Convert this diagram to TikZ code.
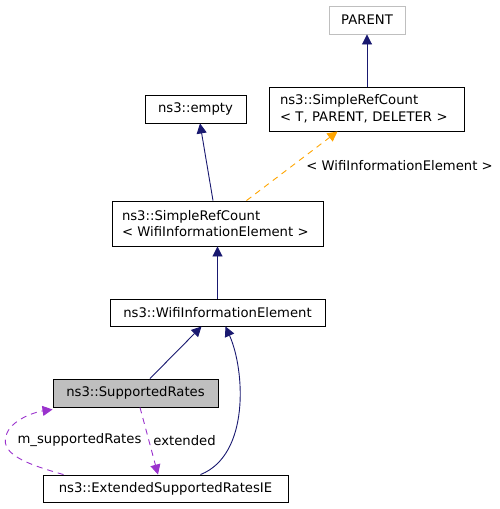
\documentclass[tikz,border=0pt]{standalone}
\usepackage{fontspec}
\setmainfont{DejaVu Sans}
\usetikzlibrary{arrows.meta}
\definecolor{navy}{HTML}{191970}
\definecolor{orng}{HTML}{FFA500}
\definecolor{purp}{HTML}{9A32CD}
\definecolor{grayfill}{HTML}{BFBFBF}
\definecolor{lgray}{HTML}{BFBFBF}
\tikzset{
  cls/.style={draw=black, fill=white, line width=0.9pt, inner sep=0pt, font=\fontsize{13.2}{16.8}\selectfont},
  inh/.style={draw=navy, line width=0.9pt, -{Triangle[length=10pt,width=10pt]}},
  tmpl/.style={draw=orng, line width=0.9pt, dash pattern=on 6pt off 5pt, -{Triangle[length=10pt,width=10pt]}},
  use/.style={draw=purp, line width=0.9pt, dash pattern=on 6pt off 5pt, -{Triangle[length=10pt,width=10pt]}},
  lbl/.style={font=\fontsize{13.2}{16}\selectfont, inner sep=0pt}
}
\begin{document}
\begin{tikzpicture}[x=1pt,y=-1pt]
\useasboundingbox (0,0) rectangle (500,509);
\node[cls, draw=lgray, minimum width=76pt, minimum height=28pt] (parent) at (367,20) {PARENT};
\node[cls, minimum width=195pt, minimum height=44pt, align=left, text width=173pt] (srct) at (366.5,109) {ns3::SimpleRefCount\\< T, PARENT, DELETER >};
\node[cls, minimum width=101pt, minimum height=28pt] (empty) at (195.5,109) {ns3::empty};
\node[cls, minimum width=211pt, minimum height=45pt, align=left, text width=191pt] (srcw) at (217.5,223.5) {ns3::SimpleRefCount\\< WifiInformationElement >};
\node[cls, minimum width=215pt, minimum height=27pt] (wie) at (217.5,312.5) {ns3::WifiInformationElement};
\node[cls, fill=grayfill, minimum width=165pt, minimum height=28pt] (sr) at (135.5,393) {ns3::SupportedRates};
\node[cls, minimum width=245pt, minimum height=27pt] (esr) at (165.5,488.5) {ns3::ExtendedSupportedRatesIE};

\draw[inh] (srct.north -| parent) -- (parent);
\draw[inh] ([xshift=-4.5pt]srcw.north) -- ([xshift=4.5pt]empty.south);
\draw[tmpl] ([xshift=29pt]srcw.north) -- node[lbl, anchor=west, pos=0.51, xshift=13pt] {< WifiInformationElement >} ([xshift=-29pt]srct.south);
\draw[inh] (srcw.south |- wie.north) -- (srcw.south);
\draw[inh] ([xshift=14.5pt]sr.north) -- ([xshift=-16pt]wie.south);
\draw[inh] ([xshift=35pt]esr.north) .. controls (250,455) and (245,370) .. ([xshift=8pt]wie.south);
\draw[use] ([xshift=4.5pt]sr.south) -- node[lbl, anchor=west, pos=0.5, xshift=4pt] {extended} ([xshift=-7.5pt]esr.north);
\draw[use] ([xshift=-102pt]esr.north) .. controls (30,465) and (0,455) .. (6,436) .. controls (10,420) and (35,412) .. ([yshift=-2pt]sr.south west);
\node[lbl] (mlab) at (79.5,440) {m\_supportedRates};
\end{tikzpicture}
\end{document}
